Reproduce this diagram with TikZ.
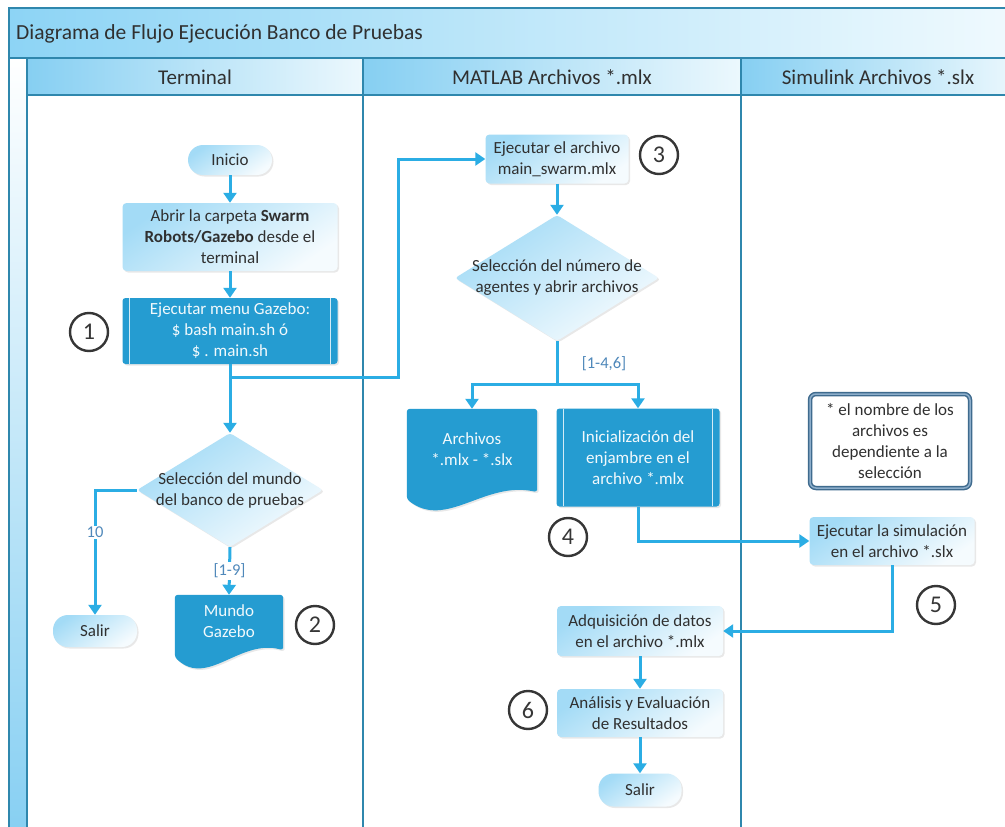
\documentclass[tikz,border=0pt]{standalone}
\usepackage{fontspec}
\setmainfont{Carlito}
\usetikzlibrary{arrows.meta,shapes.geometric,shadows,calc}

\definecolor{frameblue}{HTML}{2F87AD}
\definecolor{conn}{HTML}{2BADE4}
\definecolor{darkfill}{HTML}{259CD1}
\definecolor{lightA}{HTML}{A3DBF6}
\definecolor{lightB}{HTML}{F5FBFE}
\definecolor{titleA}{HTML}{8DD4F5}
\definecolor{titleB}{HTML}{F0FAFE}
\definecolor{headA}{HTML}{86CFF2}
\definecolor{headB}{HTML}{ECF8FD}
\definecolor{txt}{HTML}{303030}
\definecolor{lbl}{HTML}{4F88BA}
\definecolor{noteA}{HTML}{3F6B8E}
\definecolor{noteB}{HTML}{8DAECB}
\definecolor{ring}{HTML}{363636}

\pgfdeclarelayer{lanes}
\pgfdeclarelayer{shapes}
\pgfsetlayers{lanes,shapes,main}

\tikzset{
  every node/.style={font=\fontsize{17}{21}\selectfont, text=txt},
  frameline/.style={draw=frameblue, line width=1.8pt},
  softshadow/.style={drop shadow={opacity=0.18, shadow xshift=1.5pt, shadow yshift=-1.5pt}},
  lightbox/.style={rectangle, rounded corners=4pt, top color=lightA, bottom color=lightB,
    shading angle=35, softshadow, align=center, inner sep=2pt},
  pill/.style={lightbox, rounded corners=15pt},
  darkbox/.style={rectangle, rounded corners=3pt, fill=darkfill, softshadow,
    text=white!94!darkfill, align=center, inner sep=2pt},
  sideline/.style={draw=white!80!darkfill, line width=1.3pt},
  docnode/.style={rectangle, inner sep=0pt, align=center, text=white!94!darkfill},
  docfill/.style={fill=darkfill, softshadow},
  decision/.style={diamond, inner sep=0pt, rounded corners=3pt, top color=lightA, bottom color=lightB,
    shading angle=35, softshadow},
  marker/.style={circle, draw=ring, line width=2.4pt, fill=white, minimum size=38pt, inner sep=0pt,
    font=\fontsize{24}{24}\selectfont, text=ring},
  edgelabel/.style={fill=white, text=lbl, inner sep=1.5pt, font=\fontsize{16.5}{18}\selectfont},
  link/.style={draw=conn, line width=3pt},
  arrow/.style={link, -{Triangle[width=13pt,length=10pt]}},
  lanehead/.style={font=\fontsize{21}{24}\selectfont}
}

% wavy-bottom document shape around a named node
\newcommand{\docshape}[1]{%
  \path[docfill, rounded corners=3pt]
    ($(#1.south east)+(0,2)$) -- (#1.north east) -- (#1.north west) -- ($(#1.south west)+(0,9)$)
    .. controls ($(#1.south west)!0.3!(#1.south east)+(0,40)$)
           and ($(#1.south west)!0.6!(#1.south east)+(0,-10)$) .. ($(#1.south east)+(0,2)$) -- cycle;}

% the two inner bars of a predefined-process box
\newcommand{\predefbars}[1]{%
  \draw[sideline] ($(#1.north west)+(7,0.5)$) -- ($(#1.south west)+(7,-0.5)$);
  \draw[sideline] ($(#1.north east)+(-7,0.5)$) -- ($(#1.south east)+(-7,-0.5)$);}

\begin{document}
\begin{tikzpicture}[x=1pt,y=-1pt]
\useasboundingbox (0,0) rectangle (1005,827);

% ---- swimlane frame
\begin{pgfonlayer}{lanes}
  \shade[left color=titleA, right color=titleB] (9,8) rectangle (1020,58);
  \shade[top color=white, bottom color=headA] (9,58) rectangle (27,840);
  \shade[left color=headA, right color=headB] (27,58) rectangle (363,95);
  \shade[left color=headA, right color=headB] (363,58) rectangle (741,95);
  \shade[left color=headA, right color=headB] (741,58) rectangle (1020,95);
  \fill[white] (27,95) rectangle (1020,840);
  \draw[frameline] (9,8) rectangle (1020,840);
  \draw[frameline] (9,58) -- (1020,58);
  \draw[frameline] (27,95) -- (1020,95);
  \draw[frameline] (27,58) -- (27,840);
  \draw[frameline] (363,58) -- (363,840);
  \draw[frameline] (741,58) -- (741,840);
\end{pgfonlayer}

\node[anchor=west, inner sep=2pt, font=\fontsize{21.5}{24}\selectfont] (title) at (14,34)
  {Diagrama de Flujo Ejecución Banco de Pruebas};
\node[lanehead] (hterm) at (195,77) {Terminal};
\node[lanehead] (hmat) at (552,77) {MATLAB Archivos *.mlx};
\node[lanehead] (hsim) at (878,77) {Simulink Archivos *.slx};

% ---- Terminal lane
\node[pill, minimum width=84pt, minimum height=30pt] (inicio) at (230,160) {Inicio};
\node[lightbox, minimum width=215pt, minimum height=68pt] (abrir) at (230,237)
  {Abrir la carpeta \textbf{Swarm}\\\textbf{Robots/Gazebo} desde el\\terminal};
\node[darkbox, minimum width=215pt, minimum height=66pt] (menu) at (230,331)
  {Ejecutar menu Gazebo:\\\$ bash main.sh ó\\\$ . main.sh};
\predefbars{menu}
\node[marker] (c1) at (89,332) {1};
\node[decision, minimum width=186pt, minimum height=114pt,
  label={[align=center]center:Selección del mundo\\del banco de pruebas}] (dia1) at (230,490) {};
\node[pill, minimum width=84pt, minimum height=32pt] (salir1) at (95,631) {Salir};
\node[docnode, minimum width=108pt, minimum height=53pt] (mundo) at (229,621.5) {Mundo\\Gazebo};
\node[marker] (c2) at (315,625) {2};

% ---- MATLAB lane
\node[lightbox, minimum width=143pt, minimum height=49pt] (ejarch) at (557,159)
  {Ejecutar el archivo\\main\_swarm.mlx};
\node[marker] (c3) at (659,155) {3};
\node[decision, minimum width=204pt, minimum height=126pt,
  label={[align=center]center:Selección del número de\\agentes y abrir archivos}] (dia2) at (557,278) {};
\node[docnode, minimum width=130pt, minimum height=81pt] (arch) at (472,449.5) {Archivos\\*.mlx - *.slx};
\node[darkbox, minimum width=163pt, minimum height=98pt] (init) at (638,457.5)
  {Inicialización del\\enjambre en el\\archivo *.mlx};
\predefbars{init}
\node[marker] (c4) at (568,537) {4};
\node[lightbox, minimum width=166pt, minimum height=50pt] (adq) at (640,631)
  {Adquisición de datos\\en el archivo *.mlx};
\node[lightbox, minimum width=166pt, minimum height=48pt] (anal) at (640,713)
  {Análisis y Evaluación\\de Resultados};
\node[marker] (c6) at (528,710) {6};
\node[pill, minimum width=83pt, minimum height=33pt] (salir2) at (640,790) {Salir};

% ---- Simulink lane
\node[rectangle, rounded corners=6pt, draw=noteA, line width=1.5pt, double=noteB, double distance=1.5pt,
  fill=white, align=center, minimum width=160pt, minimum height=94pt] (note) at (890,441)
  {* el nombre de los\\archivos es\\dependiente a la\\selección};
\node[lightbox, minimum width=165pt, minimum height=48pt] (sim) at (892,541)
  {Ejecutar la simulación\\en el archivo *.slx};
\node[marker] (c5) at (936,605) {5};

% ---- document shapes
\begin{pgfonlayer}{shapes}
  \docshape{mundo}
  \docshape{arch}
\end{pgfonlayer}

% ---- connectors
\coordinate (split1) at (230,377);
\coordinate (bend1) at (398,377);
\coordinate (split2) at (557,384);

\draw[arrow] (inicio.south) -- (abrir.north);
\draw[arrow] (abrir.south) -- (menu.north);
\draw[link] (menu.south) -- (split1);
\draw[arrow] (split1) -- (dia1.north);
\draw[arrow] (split1) -- (bend1) |- (ejarch.west);
\draw[arrow] (dia1.west) -| node[edgelabel, pos=0.67] {10} (salir1.north);
\draw[arrow] (dia1.south) -- node[edgelabel] {[1-9]} (mundo.north);

\draw[arrow] (ejarch.south) -- (dia2.north);
\draw[link] (dia2.south) -- (split2);
\draw[arrow] (split2) -| (arch.north);
\draw[arrow] (split2) -| (init.north);
\node[edgelabel, fill=none] (lbl146) at ($(split2)+(47,-20)$) {[1-4,6]};
\draw[arrow] (init.south) |- (sim.west);
\draw[arrow] (sim.south) |- (adq.east);
\draw[arrow] (adq.south) -- (anal.north);
\draw[arrow] (anal.south) -- (salir2.north);
\end{tikzpicture}
\end{document}
